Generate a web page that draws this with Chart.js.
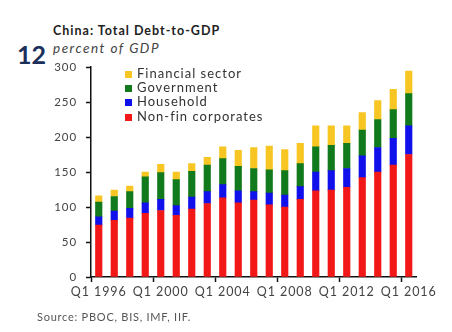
<!DOCTYPE html>
<html>
<head>
<meta charset="utf-8">
<script src="https://cdn.jsdelivr.net/npm/chart.js@4.4.1/dist/chart.umd.min.js"></script>
<style>
	body {
		margin: 0;
		width: 452px;
		height: 332px;
		background: #fff;
		position: relative;
		overflow: hidden;
		font-family: Lato, "Noto Sans", sans-serif;
	}
	#graficoDivida {
		position: absolute;
		left: 0;
		top: 0;
	}
	.numero {
		position: absolute;
		left: 17px;
		top: 39px;
		font-size: 25px;
		font-weight: bold;
		color: #1c2f5a;
	}
	.titulo {
		position: absolute;
		left: 53px;
		top: 23px;
		font-size: 12.5px;
		font-weight: bold;
		letter-spacing: 1px;
		color: #222;
	}
	.subtitulo {
		position: absolute;
		left: 53px;
		top: 40px;
		font-size: 13.5px;
		font-style: italic;
		letter-spacing: 1.5px;
		color: #444;
	}
	.fonte {
		position: absolute;
		left: 37px;
		top: 310px;
		font-size: 11px;
		letter-spacing: 0.75px;
		color: #555;
	}
	#legenda {
		position: absolute;
		left: 125px;
		top: 66px;
	}
	.item {
		height: 14.2px;
		line-height: 14.2px;
		font-size: 13px;
		letter-spacing: 1px;
		color: #333;
		white-space: nowrap;
	}
	.item span {
		display: inline-block;
		width: 7px;
		height: 7px;
		margin-right: 5px;
		vertical-align: 0px;
	}
</style>
</head>
<body>
	<div class="numero">12</div>
	<div class="titulo">China: Total Debt-to-GDP</div>
	<div class="subtitulo">percent of GDP</div>
	<canvas id="graficoDivida" width="452" height="332"></canvas>
	<div id="legenda"></div>
	<div class="fonte">Source: PBOC, BIS, IMF, IIF.</div>

<script>
// Dados do gráfico (% do PIB, Q1 de cada ano)
var rotulos = [
	"Q1 1996", "Q1 1997", "Q1 1998", "Q1 1999", "Q1 2000", "Q1 2001", "Q1 2002",
	"Q1 2003", "Q1 2004", "Q1 2005", "Q1 2006", "Q1 2007", "Q1 2008", "Q1 2009",
	"Q1 2010", "Q1 2011", "Q1 2012", "Q1 2013", "Q1 2014", "Q1 2015", "Q1 2016",
];
var naoFinanceiras = [74, 81, 84, 91, 95, 88, 97, 105, 113, 106, 110, 103, 100, 111, 123, 124, 128, 142, 150, 160, 175];
var familias = [12, 13, 14, 15, 16, 14, 17, 17, 19, 17, 12, 17, 17, 18, 27, 28, 27, 31, 35, 38, 41];
var governo = [21, 21, 24, 37, 38, 37, 37, 38, 37, 35, 33, 33, 35, 33, 36, 36, 36, 37, 40, 41, 46];
var financeiro = [9, 9, 8, 7, 12, 11, 11, 11, 17, 23, 30, 34, 30, 29, 30, 28, 25, 25, 27, 29, 32];

var nomesSeries = ["Non-fin corporates", "Household", "Government", "Financial sector"];
var coresSeries = ["#f21818", "#1010ea", "#117a1c", "#f7c623"];

var ticksY = [0, 50, 100, 150, 200, 250, 300];

var seriesValores = [naoFinanceiras, familias, governo, financeiro];
var datasets = [];
for (var i = 0; i < seriesValores.length; i++) {
	datasets.push({
		label: nomesSeries[i],
		data: seriesValores[i],
		backgroundColor: coresSeries[i],
		borderWidth: 0,
		barThickness: 6.5,
	});
}

// Legenda em HTML, ordem inversa (financeiro em cima)
var legenda = document.getElementById("legenda");
for (var i = nomesSeries.length - 1; i >= 0; i--) {
	legenda.innerHTML += `
		<div class="item"><span style="background:${coresSeries[i]}"></span>${nomesSeries[i]}</div>
	`;
}

var corTexto = "#444";
var familiaFonte = "Lato, 'Noto Sans', sans-serif";

// Espaçamento entre letras nos rótulos dos eixos (canvas)
var espacamento = {
	id: "espacamento",
	beforeDraw: function (chart) {
		chart.ctx.letterSpacing = "0.9px";
	},
	afterDraw: function (chart) {
		chart.ctx.letterSpacing = "0px";
	},
};

var grafico = new Chart(document.getElementById("graficoDivida"), {
	type: "bar",
	data: {
		labels: rotulos,
		datasets: datasets,
	},
	plugins: [espacamento],
	options: {
		responsive: false,
		animation: false,
		layout: {
			padding: { left: 0, top: 67, right: 35.5, bottom: 0 },
		},
		plugins: {
			legend: { display: false },
			tooltip: { enabled: false },
		},
		scales: {
			x: {
				stacked: true,
				offset: true,
				grid: {
					display: true,
					drawOnChartArea: false,
					offset: true,
					tickLength: 5,
					tickWidth: 1.5,
					tickColor: (ctx) => (ctx.index !== undefined && ctx.index % 4 == 0 ? "#111" : "rgba(0,0,0,0)"),
				},
				border: { color: "#111", width: 1.5 },
				ticks: {
					autoSkip: false,
					maxRotation: 0,
					padding: 2,
					color: corTexto,
					font: { family: familiaFonte, size: 12.5 },
					callback: function (valor, indice) {
						return indice % 4 == 0 ? rotulos[indice] : "";
					},
				},
				afterFit: function (escala) {
					escala.height = 332 - 277;
				},
			},
			y: {
				stacked: true,
				min: 0,
				max: 300,
				afterBuildTicks: function (escala) {
					escala.ticks = ticksY.map((v) => ({ value: v }));
				},
				grid: {
					display: true,
					drawOnChartArea: false,
					tickLength: 5,
					tickWidth: 1.5,
					color: "#111",
				},
				border: { color: "#111", width: 1.5 },
				ticks: {
					padding: 9,
					color: corTexto,
					font: { family: familiaFonte, size: 11.5 },
				},
				afterFit: function (escala) {
					escala.width = 91;
				},
			},
		},
	},
});
</script>
</body>
</html>
